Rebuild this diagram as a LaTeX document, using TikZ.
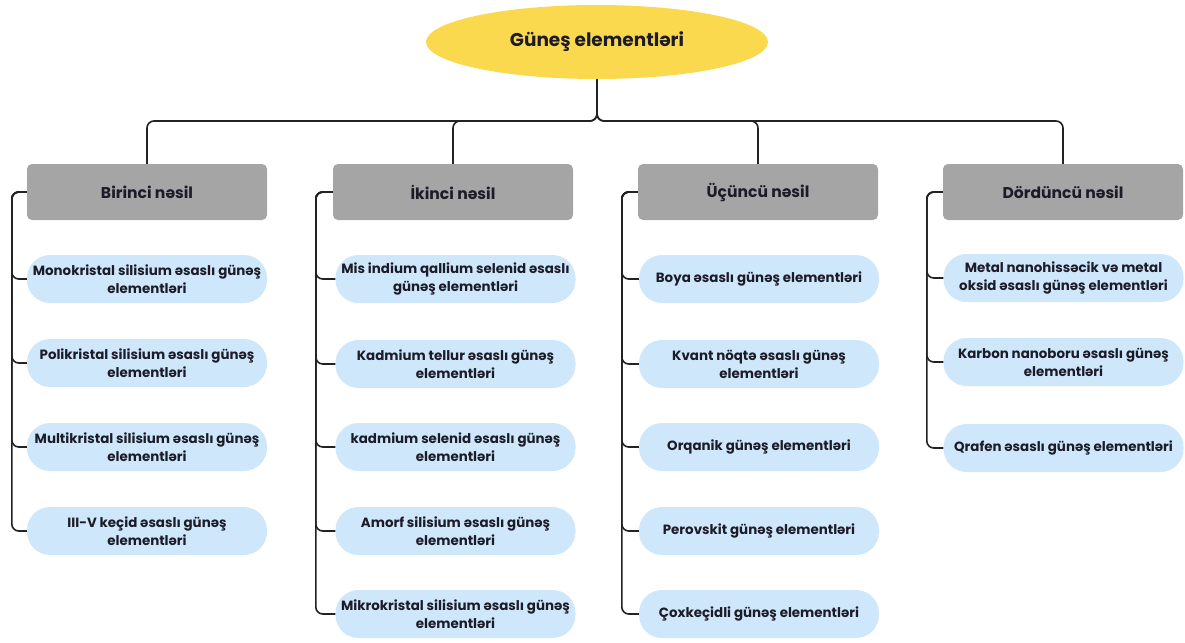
\documentclass[tikz,border=0pt]{standalone}
\usepackage{fontspec}
\setmainfont{Poppins}
\usetikzlibrary{shapes.geometric}
\definecolor{sunyellow}{HTML}{FBD94E}
\definecolor{headgray}{HTML}{A5A5A5}
\definecolor{pillblue}{HTML}{CFE7FB}
\definecolor{inkdark}{HTML}{1C1C28}
\definecolor{wireblack}{HTML}{222222}
\tikzset{
  titlebox/.style={ellipse, fill=sunyellow, minimum width=342pt, minimum height=74pt, inner sep=0pt,
    font=\fontsize{18.5}{21}\selectfont\bfseries, text=inkdark},
  genbox/.style={rectangle, rounded corners=5pt, fill=headgray, minimum width=240pt, minimum height=56pt,
    inner sep=0pt, font=\fontsize{15.6}{18}\selectfont\bfseries, text=inkdark},
  pillbox/.style={rectangle, rounded corners=23pt, fill=pillblue, minimum width=240pt, minimum height=48pt,
    inner sep=0pt, align=center, font=\fontsize{13.4}{18}\selectfont\bfseries, text=inkdark},
  wire/.style={draw=wireblack, line width=1.6pt, rounded corners=7pt}
}
\begin{document}
\begin{tikzpicture}[x=1pt,y=-1pt]
\useasboundingbox (0,0) rectangle (1185,642);
\node[titlebox] (title) at (597,42) {Güneş elementləri};
\coordinate (bus) at (597,121);

\node[genbox] (g1) at (147,192) {Birinci nəsil};
\node[genbox] (g2) at (453,192) {İkinci nəsil};
\node[genbox] (g3) at (758,192) {Üçüncü nəsil};
\node[genbox] (g4) at (1063,192) {Dördüncü nəsil};

\foreach \g in {g1,g2,g3,g4}{
  \draw[wire] (title.south) -- (bus) -| (\g.north);
}

% column 1
\node[pillbox] (a1) at (147,279) {Monokristal silisium əsaslı günəş\\elementləri};
\node[pillbox] (a2) at (147,363) {Polikristal silisium əsaslı günəş\\elementləri};
\node[pillbox] (a3) at (147,447) {Multikristal silisium əsaslı günəş\\elementləri};
\node[pillbox] (a4) at (147,531) {III-V keçid əsaslı günəş\\elementləri};

% column 2
\node[pillbox] (b1) at (455.5,279) {Mis indium qallium selenid əsaslı\\günəş elementləri};
\node[pillbox] (b2) at (455.5,364) {Kadmium tellur əsaslı günəş\\elementləri};
\node[pillbox] (b3) at (455.5,447) {kadmium selenid əsaslı günəş\\elementləri};
\node[pillbox] (b4) at (455.5,531) {Amorf silisium əsaslı günəş\\elementləri};
\node[pillbox] (b5) at (455.5,614) {Mikrokristal silisium əsaslı günəş\\elementləri};

% column 3
\node[pillbox] (c1) at (759,279) {Boya əsaslı günəş elementləri};
\node[pillbox] (c2) at (759,364) {Kvant nöqtə əsaslı günəş\\elementləri};
\node[pillbox] (c3) at (759,447) {Orqanik günəş elementləri};
\node[pillbox] (c4) at (759,531) {Perovskit günəş elementləri};
\node[pillbox] (c5) at (759,614) {Çoxkeçidli günəş elementləri};

% column 4
\node[pillbox] (d1) at (1063.5,278) {Metal nanohissəcik və metal\\oksid əsaslı günəş elementləri};
\node[pillbox] (d2) at (1063.5,362) {Karbon nanoboru əsaslı günəş\\elementləri};
\node[pillbox] (d3) at (1063.5,448) {Qrafen əsaslı günəş elementləri};

\foreach \i in {a1,a2,a3,a4}{
  \draw[wire] (g1.west) -- ++(-15,0) |- (\i.west);
}
\foreach \i in {b1,b2,b3,b4,b5}{
  \draw[wire] (g2.west) -- ++(-17,0) |- (\i.west);
}
\foreach \i in {c1,c2,c3,c4,c5}{
  \draw[wire] (g3.west) -- ++(-16,0) |- (\i.west);
}
\foreach \i in {d1,d2,d3}{
  \draw[wire] (g4.west) -- ++(-16,0) |- (\i.west);
}
\end{tikzpicture}
\end{document}
